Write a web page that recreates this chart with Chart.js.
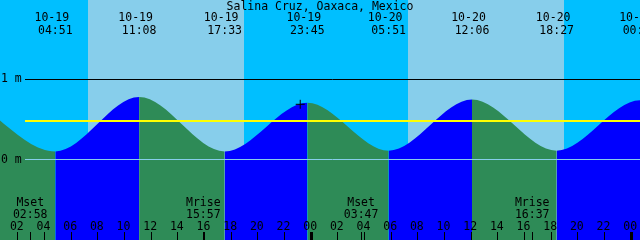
<!DOCTYPE html>
<html>
<head>
<meta charset="utf-8">
<script src="https://cdn.jsdelivr.net/npm/chart.js@4/dist/chart.umd.min.js"></script>
<style>
  html, body { margin: 0; padding: 0; background: #00bfff; }
  #wrap { width: 640px; height: 240px; }
</style>
</head>
<body>
<div id="wrap"><canvas id="tideChart" width="640" height="240"></canvas></div>
<script>
// Salina Cruz, Oaxaca, Mexico - tide heights in metres, times local
const stationName = "Salina Cruz, Oaxaca, Mexico";

// high / low tide events (first and last lie just outside the picture)
const tideDates = ["10-18", "10-19", "10-19", "10-19", "10-19", "10-20", "10-20", "10-20", "10-21", "10-21"];
const tideTimes = ["22:43", "04:51", "11:08", "17:33", "23:45", "05:51", "12:06", "18:27", "00:42", "06:55"];
const tideHeights = [0.74, 0.10, 0.78, 0.10, 0.71, 0.11, 0.75, 0.11, 0.74, 0.12];

// sun
const sunriseDates = ["10-19", "10-20"];
const sunriseTimes = ["07:18", "07:18"];
const sunsetDates = ["10-19", "10-20"];
const sunsetTimes = ["19:00", "19:00"];

// moon
const moonNames = ["Mset", "Mrise", "Mset", "Mrise"];
const moonDates = ["10-19", "10-19", "10-20", "10-20"];
const moonTimes = ["02:58", "15:57", "03:47", "16:37"];

// current position marker
const nowDate = "10-19";
const nowTime = "23:13";
const nowHeight = 0.69;

// axis ticks
const hourTicks = [2, 4, 6, 8, 10, 12, 14, 16, 18, 20, 22, 24, 26, 28, 30, 32, 34, 36, 38, 40, 42, 44, 46, 48];
const hourLabels = ["02", "04", "06", "08", "10", "12", "14", "16", "18", "20", "22", "00",
                    "02", "04", "06", "08", "10", "12", "14", "16", "18", "20", "22", "00"];
const heightTicks = [0, 1];
const heightLabels = ["0 m", "1 m"];
const meanLevel = 0.48;

const dayOffset = {"10-18": -24, "10-19": 0, "10-20": 24, "10-21": 48};
function hoursOf(date, time) {
    const [h, m] = time.split(":").map(Number);
    return dayOffset[date] + h + m / 60;
}

const nightColor = "#00bfff";
const dayColor = "#87ceeb";
const fallingColor = "#2e8b57";
const risingColor = "#0000ff";
const font = '11.5px "DejaVu Sans Mono"';

const tidePoints = tideDates.map((d, i) => ({x: hoursOf(d, tideTimes[i]), y: tideHeights[i]}));

function text(ctx, str, x, y, align) {
    ctx.textAlign = align || "center";
    ctx.fillText(str, x, y);
}

const skyPlugin = {
    id: "sky",
    beforeDraw(chart) {
        const {ctx, scales: {x}} = chart;
        ctx.save();
        ctx.fillStyle = nightColor;
        ctx.fillRect(0, 0, chart.width, chart.height);
        ctx.fillStyle = dayColor;
        for (let i = 0; i < sunriseDates.length; i++) {
            const x0 = x.getPixelForValue(hoursOf(sunriseDates[i], sunriseTimes[i]));
            const x1 = x.getPixelForValue(hoursOf(sunsetDates[i], sunsetTimes[i]));
            ctx.fillRect(Math.round(x0), 0, Math.round(x1) - Math.round(x0), chart.height);
        }
        ctx.restore();
    }
};

const overlayPlugin = {
    id: "overlay",
    afterDatasetsDraw(chart) {
        const {ctx, scales: {x, y}} = chart;
        ctx.save();
        ctx.lineWidth = 1;
        // datum and 1 m lines
        heightTicks.forEach((h) => {
            const py = Math.floor(y.getPixelForValue(h)) + 0.5;
            ctx.strokeStyle = h === 0 ? "#87ceeb" : "#000000";
            ctx.beginPath();
            ctx.moveTo(25, py);
            ctx.lineTo(chart.width, py);
            ctx.stroke();
        });
        // mean level
        ctx.strokeStyle = "#ffff00";
        ctx.lineWidth = 2;
        const my = Math.round(y.getPixelForValue(meanLevel));
        ctx.beginPath();
        ctx.moveTo(25, my);
        ctx.lineTo(chart.width, my);
        ctx.stroke();
        ctx.restore();
    },
    afterDraw(chart) {
        const {ctx, scales: {x, y}} = chart;
        ctx.save();
        ctx.fillStyle = "#000000";
        ctx.font = font;
        ctx.textBaseline = "alphabetic";

        text(ctx, stationName, 320, 10);

        // tide event labels
        tideDates.forEach((d, i) => {
            const px = x.getPixelForValue(hoursOf(d, tideTimes[i]));
            text(ctx, d, px - 3.5, 21);
            text(ctx, tideTimes[i], px, 34);
        });

        // height labels
        heightTicks.forEach((h, i) => {
            text(ctx, heightLabels[i], 1, Math.round(y.getPixelForValue(h)) + 3, "left");
        });

        // moon events
        moonNames.forEach((n, i) => {
            const px = x.getPixelForValue(hoursOf(moonDates[i], moonTimes[i]));
            text(ctx, n, px, 206);
            text(ctx, moonTimes[i], px, 218);
            ctx.fillRect(Math.round(px), 232, 1, 8);
        });

        // hour ticks
        hourTicks.forEach((h, i) => {
            const px = x.getPixelForValue(h);
            text(ctx, hourLabels[i], px - 0.5, 230);
            if (h % 24 === 0) {
                ctx.fillRect(Math.round(px) - 1, 232, 3, 8);
            } else {
                ctx.fillRect(Math.round(px), 232, 1, 8);
            }
        });
        ctx.restore();
    }
};

new Chart(document.getElementById("tideChart"), {
    type: "line",
    data: {
        datasets: [
            {
                type: "scatter",
                data: [{x: hoursOf(nowDate, nowTime), y: nowHeight}],
                pointStyle: "cross",
                pointRadius: 4.5,
                borderColor: "#000000",
                borderWidth: 1,
                order: -1
            },
            {
                data: tidePoints,
                fill: "start",
                cubicInterpolationMode: "monotone",
                pointRadius: 0,
                borderWidth: 0,
                borderColor: "rgba(0,0,0,0)",
                backgroundColor: risingColor,
                segment: {
                    backgroundColor: (c) => c.p1.parsed.y < c.p0.parsed.y ? fallingColor : risingColor
                }
            }
        ]
    },
    options: {
        responsive: false,
        animation: false,
        devicePixelRatio: 1,
        events: [],
        layout: {padding: 0, autoPadding: false},
        plugins: {legend: {display: false}, tooltip: {enabled: false}},
        scales: {
            x: {type: "linear", min: 0.7, max: 48.7, display: false},
            y: {min: -1.00625, max: 1.99375, display: false}
        }
    },
    plugins: [skyPlugin, overlayPlugin]
});
</script>
</body>
</html>
